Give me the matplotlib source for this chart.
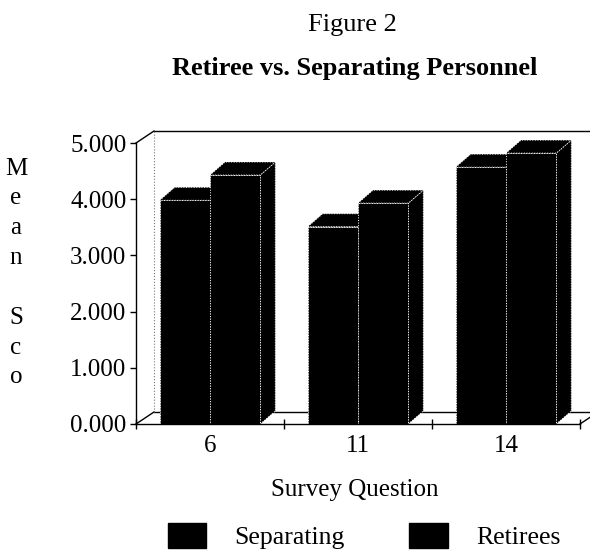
import numpy as np
import matplotlib.pyplot as plt
from matplotlib.patches import Polygon, Patch

# --- data ---
questions = ['6', '11', '14']
separating = [3.98, 3.51, 4.57]
retirees = [4.43, 3.93, 4.82]
series_names = ['Separating', 'Retirees']

plt.rcParams['font.family'] = ['Liberation Serif', 'DejaVu Serif']

W, H = 590, 550
fig = plt.figure(figsize=(W / 100, H / 100), dpi=100)
# front plane of the 3-D box, in pixels
x0, x1, ytop, ybot = 136, 580, 143, 424
ax = fig.add_axes([x0 / W, 1 - ybot / H, (x1 - x0) / W, (ybot - ytop) / H])

n = len(questions)
ymax = 5.0
ax.set_xlim(0, n)
ax.set_ylim(0, ymax)
px_x = (x1 - x0) / n
px_y = (ybot - ytop) / ymax

# depth offsets (walls and bars)
wdx, wdy = 18 / px_x, 12 / px_y
bdx, bdy = 15 / px_x, 13 / px_y

# walls / floor
line_kw = dict(color='black', lw=1.0, clip_on=False, zorder=1)
ax.plot([0, wdx], [0, wdy], **line_kw)
ax.plot([wdx, n + wdx], [wdy, wdy], **line_kw)
ax.plot([n, n + wdx], [0, wdy], **line_kw)
ax.plot([0, wdx], [ymax, ymax + wdy], **line_kw)
ax.plot([wdx, n + wdx], [ymax + wdy, ymax + wdy], **line_kw)
ax.plot([wdx, wdx], [wdy, ymax + wdy], color='#777777', lw=0.8, ls=':',
        clip_on=False, zorder=1)

width = 0.34
centers = np.arange(n) + 0.5


def bar3d(xl, h, z):
    xr = xl + width
    face = dict(facecolor='black', edgecolor='white', lw=0.7, ls=':',
                clip_on=False, zorder=z)
    side = Polygon([(xr, 0), (xr + bdx, bdy), (xr + bdx, h + bdy), (xr, h)], **face)
    top = Polygon([(xl, h), (xr, h), (xr + bdx, h + bdy), (xl + bdx, h + bdy)], **face)
    ax.add_patch(side)
    ax.add_patch(top)
    ax.bar(xl, h, width=width, align='edge', color='black', edgecolor='white',
           lw=0.7, ls=':', zorder=z + 0.5, clip_on=False)


z = 2
for i in range(n):
    bar3d(centers[i] - width, separating[i], z)
    bar3d(centers[i], retirees[i], z + 1)
    z += 2

for s in ['top', 'right']:
    ax.spines[s].set_visible(False)
for s in ['left', 'bottom']:
    ax.spines[s].set_linewidth(1.0)
    ax.spines[s].set_zorder(20)

ax.set_yticks(np.arange(0, 6))
ax.set_yticklabels([f'{v:.3f}' for v in np.arange(0, 6)], fontsize=18)
ax.tick_params(axis='y', length=4, width=1, pad=3)

ax.set_xticks(np.arange(0, n + 1))
ax.set_xticklabels([])
ax.tick_params(axis='x', which='major', direction='inout', length=7, width=1)
ax.set_xticks(centers, minor=True)
ax.set_xticklabels(questions, minor=True, fontsize=18)
ax.tick_params(axis='x', which='minor', length=0, pad=8)

fig.text(16 / W, 1 - 273 / H, 'M\ne\na\nn\n\nS\nc\no', fontsize=18,
         ha='center', va='center', linespacing=1.46)

fig.text(352 / W, 1 - 25 / H, 'Figure 2', fontsize=19, ha='center', va='center')
fig.text(355 / W, 1 - 68 / H, 'Retiree vs. Separating Personnel', fontsize=19,
         fontweight='bold', ha='center', va='center')
fig.text(355 / W, 1 - 490 / H, 'Survey Question', fontsize=18,
         ha='center', va='center')

handles = [Patch(facecolor='black', edgecolor='black') for _ in series_names]
fig.legend(handles, series_names, loc='center', ncol=2,
           bbox_to_anchor=(364 / W, 1 - 536 / H), frameon=False, fontsize=18.5,
           handlelength=1.5, handleheight=1.1, handletextpad=1.1,
           columnspacing=2.5)

fig.savefig('out.png', dpi=100)
